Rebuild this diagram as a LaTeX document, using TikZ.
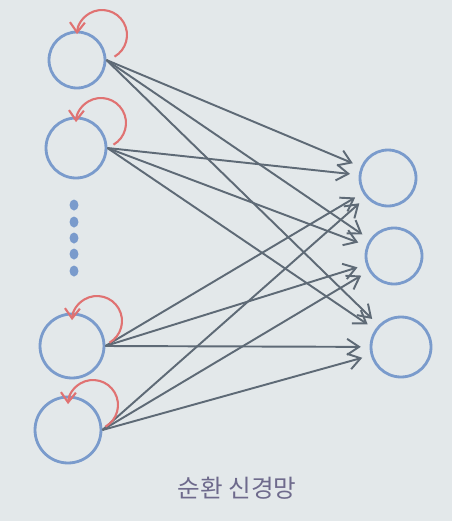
\documentclass[tikz,border=0pt]{standalone}
\usepackage{fontspec}
\newfontfamily\krfont{Noto Sans CJK KR}
\usetikzlibrary{arrows.meta}
\definecolor{paper}{HTML}{E3E8EA}
\definecolor{unitblue}{HTML}{7A9BCC}
\definecolor{linkgray}{HTML}{5E6A76}
\definecolor{looped}{HTML}{E07272}
\definecolor{capgray}{HTML}{6E6A8C}
\tikzset{
  unit/.style={draw=unitblue,line width=1.6pt,circle,minimum size=1.16cm,inner sep=0pt},
  link/.style={draw=linkgray,line width=1.1pt,shorten >=5pt,
    -{Straight Barb[length=2.4mm,width=3.2mm]}},
  selfloop/.style={draw=looped,line width=1.2pt,
    -{Straight Barb[length=2mm,width=3mm]}}
}

\begin{document}
\begin{tikzpicture}[x=0.02cm,y=-0.02cm]
  \fill [paper] (0,0) rectangle (452,521);
  \useasboundingbox (0,0) rectangle (452,521);

  % input side
  \node [unit,minimum size=1.12cm] (L1) at (77,60) {};
  \node [unit,minimum size=1.2cm] (L2) at (76,148) {};
  \node [unit,minimum size=1.28cm] (L3) at (72,346) {};
  \node [unit,minimum size=1.32cm] (L4) at (68,430) {};

  \foreach \y in {205,222,238,254,271}
    \fill [unitblue] (74,\y) ellipse [x radius=4.5,y radius=5.5];

  % output side
  \node [unit,minimum size=1.12cm] (R1) at (388,178) {};
  \node [unit,minimum size=1.12cm] (R2) at (394,256) {};
  \node [unit,minimum size=1.2cm] (R3) at (401,347) {};

  \foreach \a in {L1,L2,L3,L4}
    \foreach \b in {R1,R2,R3}
      \draw [link] (\a.east) -- (\b);

  % recurrent loops
  \foreach \a in {L1,L2,L3,L4}
    \draw [selfloop] ([shift={(25,-25)}]\a.center) ++(-60:0.5cm)
      arc [start angle=-60,end angle=178,radius=0.5cm];

  \node [text=capgray,font=\krfont\fontsize{14}{16}\selectfont] (cap) at (237,488) {순환 신경망};
\end{tikzpicture}
\end{document}
